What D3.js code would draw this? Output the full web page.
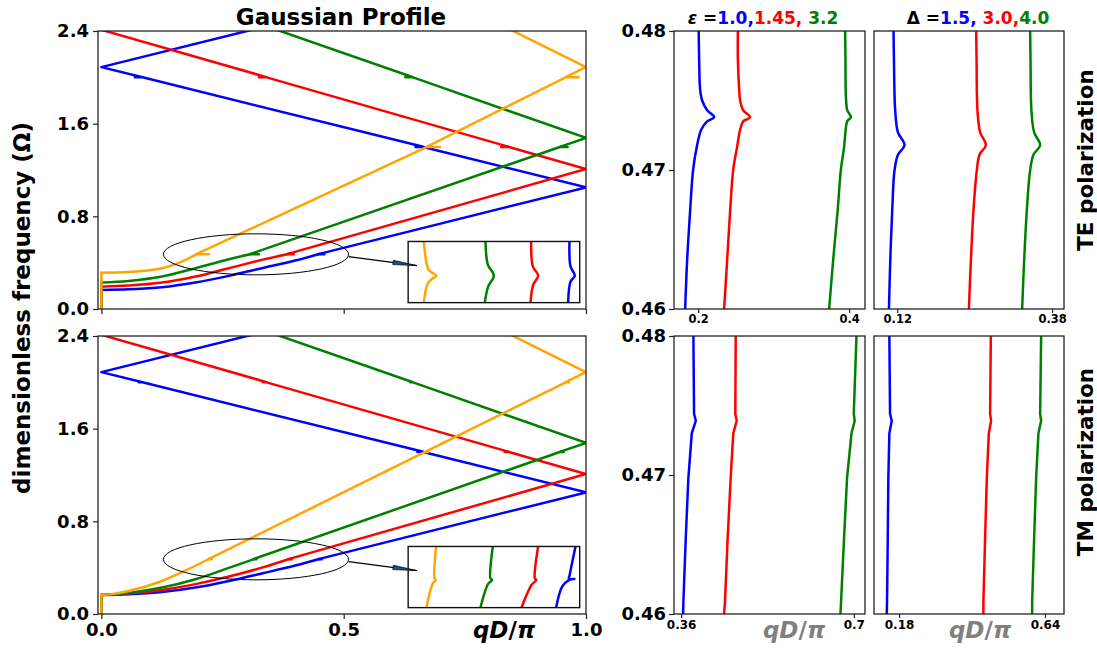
<!DOCTYPE html>
<html><head><meta charset="utf-8">
<script src="https://cdn.jsdelivr.net/npm/d3@7"></script>
<style>
body{margin:0;background:#fff}
svg{display:block}
text{font-family:"DejaVu Sans",sans-serif;font-weight:bold}
</style>
</head><body><svg id="c" width="1097" height="648"></svg>
<script>
// ---------------- DATA ----------------
const seriesColors = ["#0000ff", "#ff0000", "#008000", "#ffa500"];
const mainQTicks = [0, 0.5, 1.0];
const mainOmegaTicks = [0, 0.8, 1.6, 2.4];
const rightOmegaTicks = [0.46, 0.47, 0.48];
const gapOmega = 0.473;

// Main panel band structures, points [qD/pi, Omega]
const teBlue = [[0,0],[0,0.164],[0.056,0.170],[0.125,0.187],[0.194,0.228],[0.263,0.286],[0.331,0.352],[0.400,0.418],[0.448,0.473],[0.460,0.473],[0.448,0.474],[1.0,1.050],[0.664,1.399],[0.648,1.399],[0.664,1.400],[0.085,2.0],[0.069,2.0],[0.085,2.001],[0,2.088],[0.32,2.42]];
const teRed = [[0,0],[0,0.193],[0.056,0.202],[0.125,0.228],[0.194,0.280],[0.263,0.352],[0.331,0.424],[0.383,0.473],[0.397,0.473],[0.383,0.474],[1.0,1.208],[0.841,1.399],[0.825,1.399],[0.841,1.400],[0.341,2.0],[0.325,2.0],[0.341,2.001],[0,2.41]];
const teGreen = [[0,0],[0,0.228],[0.056,0.242],[0.125,0.280],[0.194,0.352],[0.263,0.430],[0.307,0.473],[0.325,0.473],[0.307,0.474],[0.946,1.399],[0.962,1.399],[0.946,1.400],[1.0,1.477],[0.643,2.0],[0.627,2.0],[0.643,2.001],[0.355,2.42]];
const teOrange = [[0,0],[0,0.314],[0.056,0.320],[0.125,0.352],[0.160,0.398],[0.197,0.473],[0.222,0.473],[0.197,0.475],[0.672,1.399],[0.699,1.399],[0.672,1.401],[0.958,2.0],[0.985,2.0],[0.958,2.002],[1.0,2.088],[0.840,2.42]];

const tmBlue = [[0,0],[0,0.164],[0.056,0.170],[0.125,0.190],[0.194,0.228],[0.263,0.285],[0.331,0.350],[0.400,0.418],[0.448,0.473],[0.455,0.473],[0.448,0.474],[1.0,1.050],[0.664,1.399],[0.652,1.399],[0.664,1.400],[0.085,2.0],[0.077,2.0],[0.085,2.001],[0,2.088],[0.32,2.42]];
const tmRed = [[0,0],[0,0.164],[0.056,0.176],[0.125,0.208],[0.194,0.258],[0.263,0.323],[0.331,0.400],[0.386,0.473],[0.393,0.473],[0.386,0.474],[1.0,1.208],[0.841,1.399],[0.832,1.399],[0.841,1.400],[0.341,2.0],[0.333,2.0],[0.341,2.001],[0,2.41]];
const tmGreen = [[0,0],[0,0.164],[0.056,0.182],[0.125,0.228],[0.194,0.300],[0.263,0.398],[0.314,0.473],[0.320,0.473],[0.314,0.474],[0.946,1.399],[0.954,1.399],[0.946,1.400],[1.0,1.477],[0.643,2.0],[0.637,2.0],[0.643,2.001],[0.355,2.42]];
const tmOrange = [[0,0],[0,0.164],[0.030,0.176],[0.056,0.198],[0.125,0.285],[0.175,0.378],[0.221,0.473],[0.228,0.473],[0.221,0.474],[0.668,1.399],[0.674,1.399],[0.668,1.400],[0.958,2.0],[0.965,2.0],[0.958,2.001],[1.0,2.088],[0.840,2.42]];

// Insets (zoom near the first gap), points [q, Omega]
const insetTEBlue = [[0.4473,0.480],[0.4490,0.4755],[0.4565,0.4738],[0.4490,0.4727],[0.4450,0.4689]];
const insetTERed = [[0.3809,0.480],[0.3838,0.4755],[0.3930,0.4738],[0.3844,0.4721],[0.3798,0.4689]];
const insetTEGreen = [[0.3019,0.480],[0.3059,0.4758],[0.3163,0.4738],[0.3065,0.4718],[0.3007,0.4689]];
const insetTEOrange = [[0.1951,0.480],[0.1992,0.4764],[0.2038,0.4748],[0.2165,0.4738],[0.2067,0.4730],[0.2009,0.4721],[0.1951,0.4689]];
const insetTMBlue = [[0.4577,0.480],[0.4473,0.4747],[0.4462,0.4741],[0.4559,0.4741],[0.4462,0.4739],[0.4346,0.4727],[0.4242,0.4689]];
const insetTMRed = [[0.3930,0.480],[0.3873,0.4742],[0.3896,0.4739],[0.3815,0.4730],[0.3642,0.4689]];
const insetTMGreen = [[0.3146,0.480],[0.3105,0.4742],[0.3134,0.4739],[0.3065,0.4732],[0.2932,0.4689]];
const insetTMOrange = [[0.2165,0.480],[0.2136,0.4742],[0.2159,0.4739],[0.2107,0.4733],[0.1997,0.4689]];

// Right panels: [q, Omega]
const epsTEBlue = [[0.2007,0.480],[0.2013,0.478],[0.2026,0.4758],[0.2053,0.475],[0.2119,0.4743],[0.2212,0.4738],[0.2119,0.4735],[0.2040,0.4729],[0.1983,0.4717],[0.1933,0.470],[0.1894,0.4671],[0.1854,0.4635],[0.1828,0.460]];
const epsTERed = [[0.2526,0.480],[0.2526,0.478],[0.2543,0.4758],[0.2556,0.475],[0.2596,0.4743],[0.2689,0.4738],[0.2596,0.4735],[0.2556,0.4729],[0.2517,0.4717],[0.2464,0.470],[0.2424,0.4671],[0.2384,0.4635],[0.2344,0.460]];
const epsTEGreen = [[0.3947,0.480],[0.3951,0.478],[0.3954,0.4758],[0.3960,0.475],[0.3974,0.4743],[0.4023,0.4738],[0.3974,0.4735],[0.3954,0.4729],[0.3934,0.4717],[0.3890,0.470],[0.3848,0.4671],[0.3788,0.4635],[0.3735,0.460]];
const delTEBlue = [[0.1138,0.480],[0.1145,0.4779],[0.1166,0.4743],[0.1212,0.4727],[0.1322,0.4718],[0.1212,0.4711],[0.1155,0.470],[0.1116,0.4671],[0.1083,0.4635],[0.1061,0.460]];
const delTERed = [[0.2526,0.480],[0.2532,0.4779],[0.2547,0.4743],[0.2593,0.4727],[0.2688,0.4718],[0.2581,0.4711],[0.2537,0.470],[0.2480,0.4671],[0.2437,0.4635],[0.2403,0.460]];
const delTEGreen = [[0.3432,0.480],[0.3438,0.4779],[0.3453,0.4743],[0.3499,0.4727],[0.3599,0.4718],[0.3487,0.4711],[0.3432,0.470],[0.3376,0.4671],[0.3331,0.4635],[0.3297,0.460]];
const epsTMBlue = [[0.3842,0.480],[0.3855,0.4744],[0.3889,0.4739],[0.3810,0.4730],[0.3743,0.4698],[0.3692,0.4655],[0.3645,0.4609],[0.3639,0.460]];
const epsTMRed = [[0.4675,0.480],[0.4667,0.4744],[0.4694,0.4739],[0.4627,0.4730],[0.4576,0.4698],[0.4517,0.4655],[0.4464,0.4609],[0.4445,0.460]];
const epsTMGreen = [[0.7052,0.480],[0.6999,0.4744],[0.7018,0.4739],[0.6954,0.4730],[0.6867,0.4698],[0.6808,0.4655],[0.6749,0.4609],[0.6737,0.460]];
const delTMBlue = [[0.1494,0.480],[0.1516,0.4744],[0.1570,0.4739],[0.1494,0.4730],[0.1462,0.4698],[0.1444,0.4655],[0.1421,0.4609],[0.1412,0.460]];
const delTMRed = [[0.4693,0.480],[0.4671,0.4744],[0.4702,0.4739],[0.4630,0.4730],[0.4567,0.4698],[0.4513,0.4655],[0.4459,0.4609],[0.4459,0.460]];
const delTMGreen = [[0.6279,0.480],[0.6248,0.4744],[0.6279,0.4739],[0.6194,0.4730],[0.6122,0.4698],[0.6059,0.4655],[0.5996,0.4609],[0.5996,0.460]];

const epsTicksTE = [0.2, 0.4], delTicksTE = [0.12, 0.38], epsTicksTM = [0.36, 0.7], delTicksTM = [0.18, 0.64];
const epsValues = ["1.0,", "1.45,", " 3.2"];
const delValues = ["1.5,", " 3.0,", "4.0"];

// ---------------- DRAW ----------------
const svg = d3.select("#c");
let clipId = 0;
const frameColor = "#222";

function styleAxis(g, fontSize) {
  g.select(".domain").remove();
  g.selectAll(".tick line").attr("stroke", frameColor).attr("stroke-width", 1.2);
  g.selectAll(".tick text").attr("fill", "#000").style("font-size", fontSize + "px")
    .style("font-family", '"DejaVu Sans",sans-serif').style("font-weight", "bold");
}

function addClip(x0, y0, w, h) {
  const id = "clip" + (clipId++);
  svg.append("clipPath").attr("id", id).append("rect").attr("x", x0).attr("y", y0).attr("width", w).attr("height", h);
  return id;
}

function mainPanel(top, bottom, series, insetSeries, showXLabels) {
  const x = d3.scaleLinear().domain([-0.007, 1.0]).range([98, 586]);
  const y = d3.scaleLinear().domain([0, 2.4]).range([bottom, top]);
  const cid = addClip(98, top, 488, bottom - top);
  const g = svg.append("g").attr("clip-path", `url(#${cid})`);
  const line = d3.line().x(d => x(d[0])).y(d => y(d[1]));
  const smooth = d3.line().x(d => x(d[0])).y(d => y(d[1])).curve(d3.curveMonotoneX);
  series.forEach((s, i) => {
    const gi = s.findIndex(d => d[1] >= gapOmega);
    const parts = [line(s.slice(0, 2)), smooth(s.slice(1, gi + 1)), line(s.slice(gi))];
    parts.forEach(p => g.append("path").attr("d", p).attr("fill", "none").attr("stroke", seriesColors[i])
      .attr("stroke-width", 2.5).attr("stroke-linejoin", "round").attr("stroke-linecap", "round"));
  });
  // ellipse highlighting the first gap
  const cx = x(0.319), cy = y(0.472);
  svg.append("ellipse").attr("cx", cx).attr("cy", cy)
    .attr("rx", x(0.510) - cx).attr("ry", y(0) - y(0.177))
    .attr("fill", "none").attr("stroke", "#000").attr("stroke-width", 1);
  // inset
  const ix0 = x(0.633), ix1 = x(0.987), iy0 = y(0.583), iy1 = y(0.055);
  svg.append("rect").attr("x", ix0).attr("y", iy0).attr("width", ix1 - ix0).attr("height", iy1 - iy0).attr("fill", "#fff");
  const xi = d3.scaleLinear().domain([0.168, 0.465]).range([ix0, ix1]);
  const yi = d3.scaleLinear().domain([0.4689, 0.48]).range([iy1, iy0]);
  const icid = addClip(ix0, iy0, ix1 - ix0, iy1 - iy0);
  const gi = svg.append("g").attr("clip-path", `url(#${icid})`);
  const iline = d3.line().x(d => xi(d[0])).y(d => yi(d[1])).curve(d3.curveCatmullRom.alpha(0.5));
  insetSeries.forEach((s, i) => {
    gi.append("path").attr("d", iline(s)).attr("fill", "none").attr("stroke", seriesColors[i]).attr("stroke-width", 2.5);
  });
  svg.append("rect").attr("x", ix0).attr("y", iy0).attr("width", ix1 - ix0).attr("height", iy1 - iy0)
    .attr("fill", "none").attr("stroke", "#111").attr("stroke-width", 1.4);
  // arrow from ellipse to inset
  const ax0 = x(0.510), ay0 = y(0.4527), ax1 = x(0.651), ay1 = y(0.375);
  svg.append("line").attr("x1", ax0).attr("y1", ay0).attr("x2", ax1).attr("y2", ay1).attr("stroke", "#000").attr("stroke-width", 1.2);
  const L = Math.hypot(ax1 - ax0, ay1 - ay0), ux = (ax1 - ax0) / L, uy = (ay1 - ay0) / L;
  const hb = 24, hw = 2.2;
  const bx = ax1 - ux * hb, by = ay1 - uy * hb;
  svg.append("polygon").attr("points", [[ax1, ay1], [bx - uy * hw, by + ux * hw], [bx + uy * hw, by - ux * hw]].map(p => p.join(",")).join(" "))
    .attr("fill", "#2a4d6e").attr("stroke", "#000").attr("stroke-width", 0.7);
  // axes
  const ya = svg.append("g").attr("transform", "translate(98,0)")
    .call(d3.axisLeft(y).tickValues(mainOmegaTicks).tickFormat(d3.format(".1f")).tickSize(5).tickPadding(4));
  styleAxis(ya, 18);
  const xa = svg.append("g").attr("transform", `translate(0,${bottom})`)
    .call(d3.axisBottom(x).tickValues(mainQTicks).tickFormat(showXLabels ? d3.format(".1f") : "").tickSize(5).tickPadding(4));
  styleAxis(xa, 18);
  svg.append("rect").attr("x", 98).attr("y", top).attr("width", 488).attr("height", bottom - top)
    .attr("fill", "none").attr("stroke", frameColor).attr("stroke-width", 1.3);
}

function rightPanel(x0, x1, top, bottom, xdom, xticks, series, smooth, showY, tickFont) {
  const x = d3.scaleLinear().domain(xdom).range([x0, x1]);
  const y = d3.scaleLinear().domain([0.46, 0.48]).range([bottom, top]);
  const cid = addClip(x0, top, x1 - x0, bottom - top);
  const g = svg.append("g").attr("clip-path", `url(#${cid})`);
  const line = d3.line().x(d => x(d[0])).y(d => y(d[1]));
  if (smooth) line.curve(d3.curveCatmullRom.alpha(0.5));
  series.forEach((s, i) => {
    g.append("path").attr("d", line(s)).attr("fill", "none").attr("stroke", seriesColors[i]).attr("stroke-width", 2.5);
  });
  if (showY) {
    const ya = svg.append("g").attr("transform", `translate(${x0},0)`)
      .call(d3.axisLeft(y).tickValues(rightOmegaTicks).tickFormat(d3.format(".2f")).tickSize(5).tickPadding(3));
    styleAxis(ya, 18);
  }
  const xa = svg.append("g").attr("transform", `translate(0,${bottom})`)
    .call(d3.axisBottom(x).tickValues(xticks).tickFormat(d => String(d)).tickSize(4).tickPadding(2));
  styleAxis(xa, tickFont);
  svg.append("rect").attr("x", x0).attr("y", top).attr("width", x1 - x0).attr("height", bottom - top)
    .attr("fill", "none").attr("stroke", frameColor).attr("stroke-width", 1.3);
}

const TOP1 = 31, BOT1 = 309, TOP2 = 336, BOT2 = 614;
mainPanel(TOP1, BOT1, [teBlue, teRed, teGreen, teOrange], [insetTEBlue, insetTERed, insetTEGreen, insetTEOrange], false);
mainPanel(TOP2, BOT2, [tmBlue, tmRed, tmGreen, tmOrange], [insetTMBlue, insetTMRed, insetTMGreen, insetTMOrange], true);
rightPanel(674, 865, TOP1, BOT1, [0.168, 0.421], epsTicksTE, [epsTEBlue, epsTERed, epsTEGreen], true, true, 11.5);
rightPanel(874, 1064, TOP1, BOT1, [0.081, 0.40], delTicksTE, [delTEBlue, delTERed, delTEGreen], true, false, 11.5);
rightPanel(674, 865, TOP2, BOT2, [0.346, 0.722], epsTicksTM, [epsTMBlue, epsTMRed, epsTMGreen], false, true, 12);
rightPanel(874, 1064, TOP2, BOT2, [0.101, 0.70], delTicksTM, [delTMBlue, delTMRed, delTMGreen], false, false, 12);

// Titles & labels
svg.append("text").attr("x", 341).attr("y", 25).attr("text-anchor", "middle").style("font-size", "23px").text("Gaussian Profile");

const t1 = svg.append("text").attr("x", 763).attr("y", 24).attr("text-anchor", "middle").style("font-size", "17px");
t1.append("tspan").style("font-style", "italic").text("ε");
t1.append("tspan").text(" =");
epsValues.forEach((v, i) => t1.append("tspan").attr("fill", seriesColors[i]).text(v));

const t2 = svg.append("text").attr("x", 978).attr("y", 24).attr("text-anchor", "middle").style("font-size", "17px");
t2.append("tspan").text("Δ =");
delValues.forEach((v, i) => t2.append("tspan").attr("fill", seriesColors[i]).text(v));

svg.append("text").attr("transform", "translate(30,308) rotate(-90)").attr("text-anchor", "middle")
  .style("font-size", "23px").text("dimensionless frequency (Ω)");
svg.append("text").attr("transform", "translate(1093,160) rotate(-90)").attr("text-anchor", "middle")
  .style("font-size", "21.5px").text("TE polarization");
svg.append("text").attr("transform", "translate(1093,462) rotate(-90)").attr("text-anchor", "middle")
  .style("font-size", "21.5px").text("TM polarization");

[[504, "#000"], [794, "#808080"], [980, "#808080"]].forEach(([cx, col]) => {
  const t = svg.append("text").attr("x", cx).attr("y", 638).attr("text-anchor", "middle")
    .style("font-size", "23px").attr("fill", col);
  t.append("tspan").style("font-style", "italic").text("qD");
  t.append("tspan").text("/");
  t.append("tspan").style("font-style", "italic").text("π");
});
</script></body></html>
